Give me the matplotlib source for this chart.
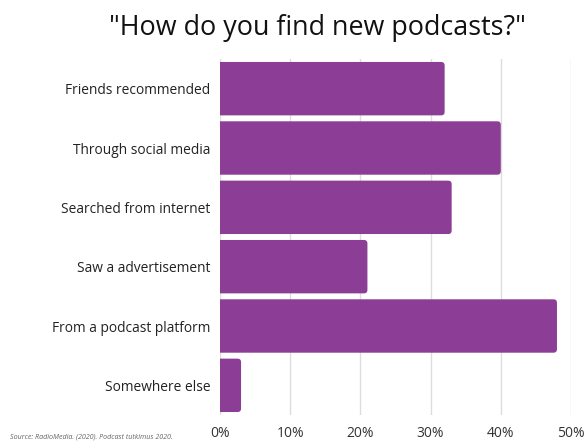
import matplotlib
matplotlib.use("Agg")
import matplotlib.pyplot as plt
from matplotlib.ticker import FuncFormatter
from matplotlib.patches import FancyBboxPatch

categories = ["Friends recommended", "Through social media", "Searched from internet",
              "Saw a advertisement", "From a podcast platform", "Somewhere else"]
values = [32, 40, 33, 21, 48, 3]
xticks = [0, 10, 20, 30, 40, 50]

plt.rcParams['font.family'] = ['Open Sans', 'DejaVu Sans']

fig = plt.figure(figsize=(5.85, 4.44), dpi=100)
ax = fig.add_axes([220/585, 1-415/444, 351/585, 356/444])

ypos = list(range(len(categories)))
bars = ax.barh(ypos, values, height=0.9, color="#8C3D95", zorder=3)
ax.set_ylim(len(categories)-0.5, -0.5)
ax.set_xlim(0, 50)

# rounded right-hand ends
px_x = 351 / 50.0
px_y = 356 / 6.0
for b in bars:
    x0, y0 = b.get_x(), b.get_y()
    w, h = b.get_width(), b.get_height()
    b.set_visible(False)
    p = FancyBboxPatch((x0 - 2, y0), w + 2, h,
                       boxstyle="round,pad=0,rounding_size=0.5",
                       mutation_aspect=px_x / px_y,
                       facecolor="#8C3D95", edgecolor="none", zorder=3)
    ax.add_patch(p)

ax.set_yticks(ypos)
ax.set_yticklabels(categories, fontsize=9.9, color="#222222")
ax.set_xticks(xticks)
ax.xaxis.set_major_formatter(FuncFormatter(lambda v, p: f"{int(v)}%"))
ax.tick_params(axis='x', labelsize=10, colors="#333333", length=0, pad=8)
ax.tick_params(axis='y', length=0, pad=7)
ax.grid(axis='x', color="#dddddd", linewidth=1, zorder=0)
for s in ax.spines.values():
    s.set_visible(False)

fig.text(317.5/585, 1-28/444, '"How do you find new podcasts?"', ha='center', va='center',
         fontsize=19.4, color="#111111")
fig.text(10/585, 1-437/444, "Source: RadioMedia. (2020). Podcast tutkimus 2020.",
         fontsize=5.1, style='italic', color="#666666", ha='left', va='center')

fig.savefig("out.png", dpi=100)
